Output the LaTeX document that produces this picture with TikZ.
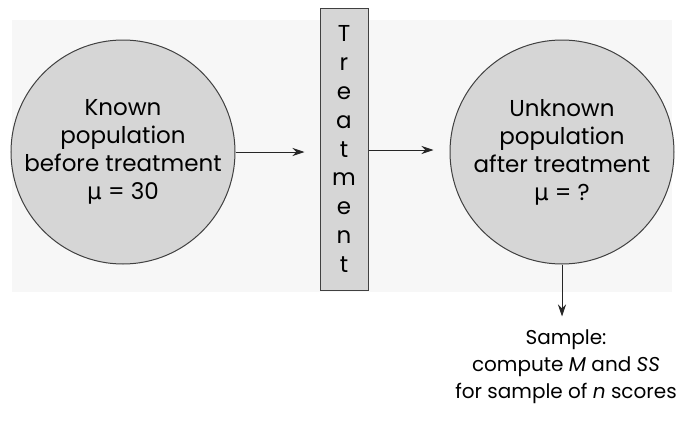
\documentclass[tikz,border=0pt]{standalone}
\usepackage{fontspec}
\setmainfont{Poppins}
\newfontfamily\greekfont{DejaVu Sans}
\usetikzlibrary{arrows.meta,positioning}

\begin{document}
\begin{tikzpicture}[
  x=0.5pt, y=-0.5pt,
  pop/.style={circle, draw=black!75, fill=black!16, line width=0.5pt,
              minimum size=112pt, inner sep=0pt, align=center,
              font=\fontsize{11.5}{14}\selectfont},
  treatbox/.style={rectangle, draw=black!75, fill=black!16, line width=0.5pt,
                   minimum width=24pt, minimum height=141pt, inner sep=0pt,
                   align=center, font=\fontsize{11.5}{14.4}\selectfont},
  note/.style={align=center, font=\fontsize{10}{13.5}\selectfont},
  arrow/.style={-{Stealth[length=6pt, width=4pt]}, line width=0.5pt, draw=black!85},
]
\useasboundingbox (0,0) rectangle (686,423);
%% faint backdrop of the scan
\fill[black!3] (12,20) rectangle (672,292);

%% populations and treatment
\node[pop] (before) at (123,152) {Known\\population\\before treatment\\{\greekfont μ} = 30};
\node[treatbox] (treat) at (344,149) {T\\r\\e\\a\\t\\m\\e\\n\\t};
\node[pop] (after) at (562,152) {Unknown\\population\\after treatment\\{\greekfont μ} = ?};

%% sample below
\node[note, below=29pt of after, xshift=2pt] (sample) {Sample:\\compute \textit{M} and \textit{SS}\\for sample of \textit{n} scores};

%% arrows
\draw[arrow, shorten >=7.5pt] (before.east) -- (treat.west |- before.east);
\draw[arrow, shorten >=8pt] (treat.east |- 0,150) -- (after.west |- 0,150);
\draw[arrow, shorten >=3pt] (after.south) -- (after.south |- sample.north);
\end{tikzpicture}
\end{document}
